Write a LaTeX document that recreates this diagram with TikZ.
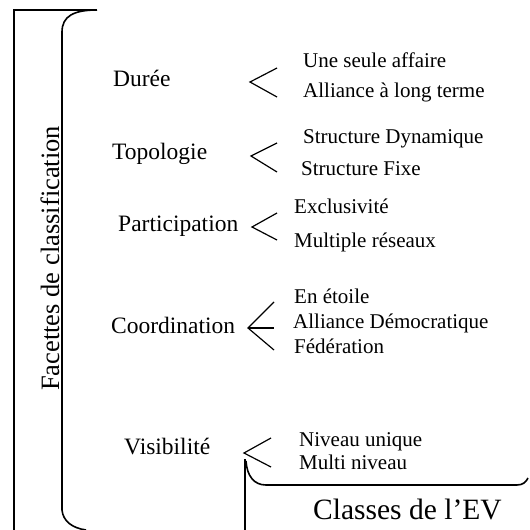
\documentclass[tikz,border=0pt]{standalone}
\usepackage{fontspec}
\setmainfont{Liberation Serif}
\begin{document}
\begin{tikzpicture}[x=1bp,y=-1bp,
  facet/.style={anchor=base west,inner sep=0pt,font=\fontsize{23.5bp}{27bp}\selectfont},
  item/.style={anchor=base west,inner sep=0pt,font=\fontsize{21bp}{24bp}\selectfont},
  sidecaption/.style={anchor=base west,inner sep=0pt,font=\fontsize{26.5bp}{30bp}\selectfont},
  caption/.style={anchor=base west,inner sep=0pt,font=\fontsize{29.5bp}{33bp}\selectfont},
  frame/.style={line width=1.6bp},
  branch/.style={line width=1.2bp}]
\useasboundingbox (0,0) rectangle (530,530);

% outer frame and the large bracket
\coordinate (fTop) at (97,10);
\coordinate (fBot) at (14,530);
\draw[frame] (fBot) -- (14,10) -- (fTop);
\draw[frame] (86,530) .. controls (72,528) and (63,521) .. (62,510)
  -- (62,32) .. controls (62,16) and (74,10) .. (fTop);

% lower frame holding the class caption
\draw[frame] (245,530) -- (245,459);
\draw[frame] (246,461) .. controls (247,476) and (254,485) .. (266,485)
  -- (517,485) .. controls (523,485) and (526,482) .. (528,478);

% captions
\node[sidecaption,rotate=90] (facettes) at (59,391) {Facettes de classification};
\node[caption] (classes) at (313,519) {Classes de l’EV};

% facets
\node[facet] (duree) at (113,87) {Durée};
\node[facet] (topo) at (112,160) {Topologie};
\node[facet] (part) at (118,231) {Participation};
\node[facet] (coord) at (111,333) {Coordination};
\node[facet] (visi) at (124,454) {Visibilité};

% classes of each facet
\node[item] (d1) at (303,68) {Une seule affaire};
\node[item] (d2) at (303,98) {Alliance à long terme};
\node[item] (t1) at (303,144) {Structure Dynamique};
\node[item] (t2) at (301,176) {Structure Fixe};
\node[item] (p1) at (294,213) {Exclusivité};
\node[item] (p2) at (294,247) {Multiple réseaux};
\node[item] (c1) at (294,303) {En étoile};
\node[item] (c2) at (293,328) {Alliance Démocratique};
\node[item] (c3) at (294,353) {Fédération};
\node[item] (v1) at (299,446) {Niveau unique};
\node[item] (v2) at (299,469) {Multi niveau};

% branching marks
\coordinate (dT) at (250,82);
\coordinate (dA) at (277,68);
\coordinate (dB) at (277,97);
\draw[branch] (dA) -- (dT) -- (dB);

\coordinate (tT) at (251,156);
\coordinate (tA) at (277,143);
\coordinate (tB) at (277,172);
\draw[branch] (tA) -- (tT) -- (tB);

\coordinate (pT) at (252,227);
\coordinate (pA) at (277,213);
\coordinate (pB) at (277,240);
\draw[branch] (pA) -- (pT) -- (pB);

\coordinate (cT) at (248,328);
\coordinate (cA) at (274,302);
\coordinate (cM) at (274,328);
\coordinate (cB) at (274,350);
\draw[branch] (cA) -- (cT) -- (cB);
\draw[branch] (cT) -- (cM);

\coordinate (vT) at (244,453);
\coordinate (vA) at (271,438);
\coordinate (vB) at (271,467);
\draw[branch] (vA) -- (vT) -- (vB);
\end{tikzpicture}
\end{document}
